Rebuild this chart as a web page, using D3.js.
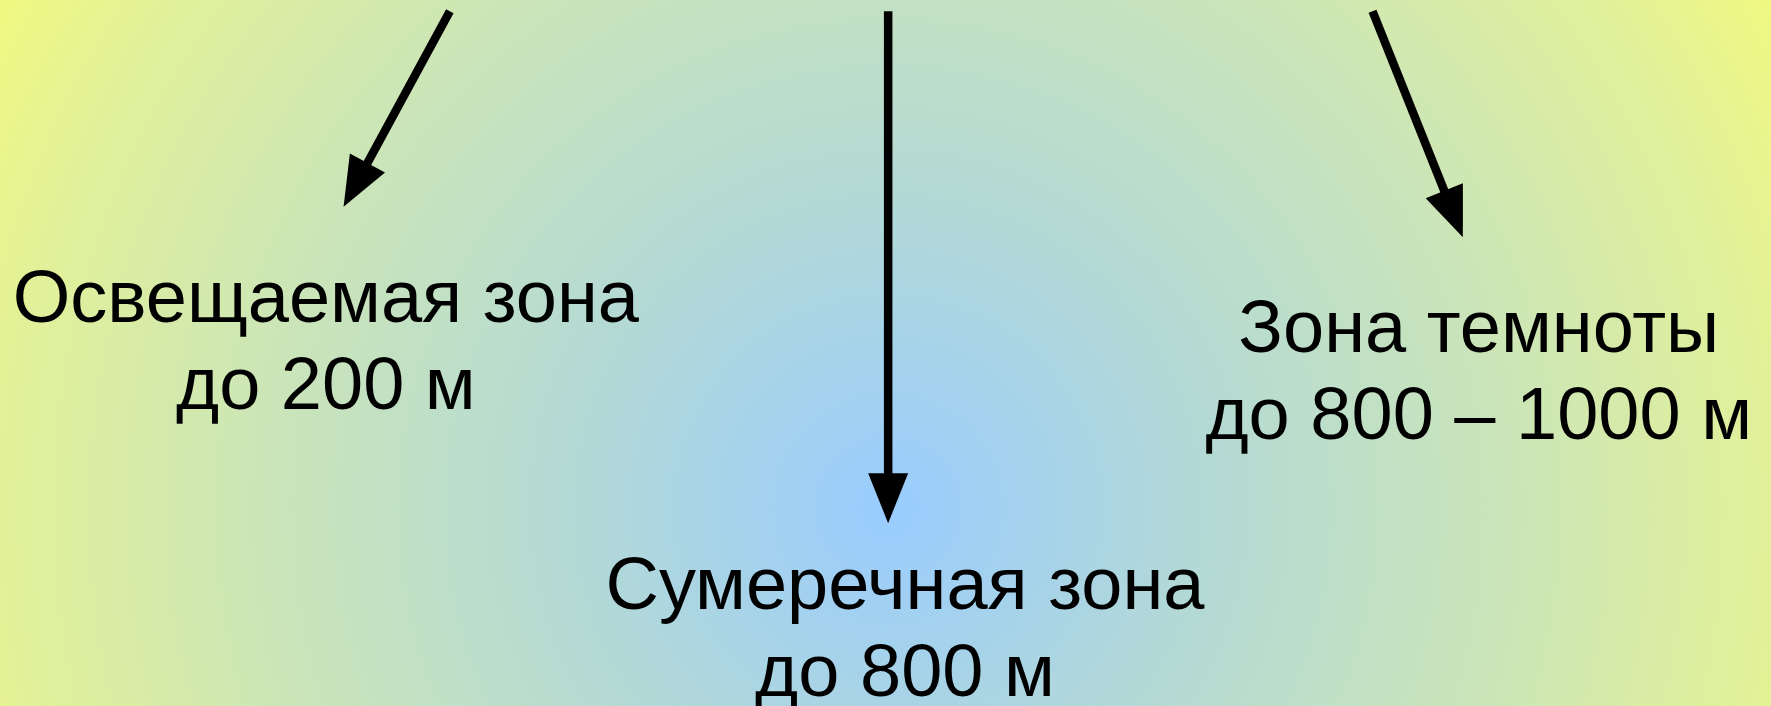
<!DOCTYPE html>
<meta charset="utf-8">
<head>
    <title></title>
    <script src="https://d3js.org/d3.v7.min.js"></script>
    <style>
        body { margin: 0; overflow: hidden; }
        text { font-family: "Liberation Sans", Arial, sans-serif; fill: #000; }
    </style>
</head>
<body>
<div id="my_dataviz"></div>
<script>

    // zones of the ocean and how deep they go
    var zoneNames = ["Освещаемая зона", "Сумеречная зона", "Зона темноты"];
    var depthLabels = ["до 200 м", "до 800 м", "до 800 – 1000 м"];

    // layout of each label and arrow, in fractions of the picture
    var labelX = [0.184, 0.511, 0.835];
    var labelY = [0.456, 0.862, 0.499];
    var arrowFrom = [[0.254, 0.016], [0.5015, 0.016], [0.775, 0.016]];
    var arrowTo = [[0.194, 0.293], [0.5015, 0.741], [0.826, 0.336]];

    var width = 1771,
        height = 706;

    var x = d3.scaleLinear().domain([0, 1]).range([0, width]);
    var y = d3.scaleLinear().domain([0, 1]).range([0, height]);

    var svg = d3.select("#my_dataviz")
      .append("svg")
        .attr("width", width)
        .attr("height", height);

    // background: blue in the middle, fading to yellow in the corners
    var grad = svg.append("defs").append("radialGradient")
        .attr("id", "bg")
        .attr("gradientUnits", "userSpaceOnUse")
        .attr("cx", x(0.5015)).attr("cy", y(0.72))
        .attr("r", 1040);
    grad.append("stop").attr("offset", "0").attr("stop-color", "#99ccff");
    grad.append("stop").attr("offset", "0.3").attr("stop-color", "#b3d9d6");
    grad.append("stop").attr("offset", "0.6").attr("stop-color", "#cbe5b8");
    grad.append("stop").attr("offset", "0.85").attr("stop-color", "#e2f198");
    grad.append("stop").attr("offset", "1").attr("stop-color", "#f2fa7e");

    svg.append("rect")
        .attr("width", width)
        .attr("height", height)
        .attr("fill", "url(#bg)");

    // arrows
    var headLen = 50, headW = 40;
    var arrows = svg.append("g")
      .selectAll("g")
      .data(d3.range(zoneNames.length))
      .enter().append("g");

    arrows.each(function(i) {
        var g = d3.select(this);
        var x0 = x(arrowFrom[i][0]), y0 = y(arrowFrom[i][1]);
        var x1 = x(arrowTo[i][0]), y1 = y(arrowTo[i][1]);
        var a = Math.atan2(y1 - y0, x1 - x0);
        var bx = x1 - headLen * Math.cos(a), by = y1 - headLen * Math.sin(a);
        var nx = -Math.sin(a) * headW / 2, ny = Math.cos(a) * headW / 2;
        g.append("line")
            .attr("x1", x0).attr("y1", y0)
            .attr("x2", bx + 2 * Math.cos(a)).attr("y2", by + 2 * Math.sin(a))
            .attr("stroke", "#000")
            .attr("stroke-width", 8.5);
        g.append("path")
            .attr("d", "M" + x1 + "," + y1 + "L" + (bx + nx) + "," + (by + ny) + "L" + (bx - nx) + "," + (by - ny) + "Z")
            .attr("fill", "#000");
    });

    // labels
    var labels = svg.append("g")
      .selectAll("text")
      .data(d3.range(zoneNames.length))
      .enter().append("text")
        .attr("text-anchor", "middle")
        .style("font-size", "74px")
        .attr("x", function(i) { return x(labelX[i]); })
        .attr("y", function(i) { return y(labelY[i]); });

    labels.append("tspan")
        .attr("x", function(i) { return x(labelX[i]); })
        .text(function(i) { return zoneNames[i]; });
    labels.append("tspan")
        .attr("x", function(i) { return x(labelX[i]); })
        .attr("dy", 87)
        .text(function(i) { return depthLabels[i]; });

</script>
</body>
</html>
